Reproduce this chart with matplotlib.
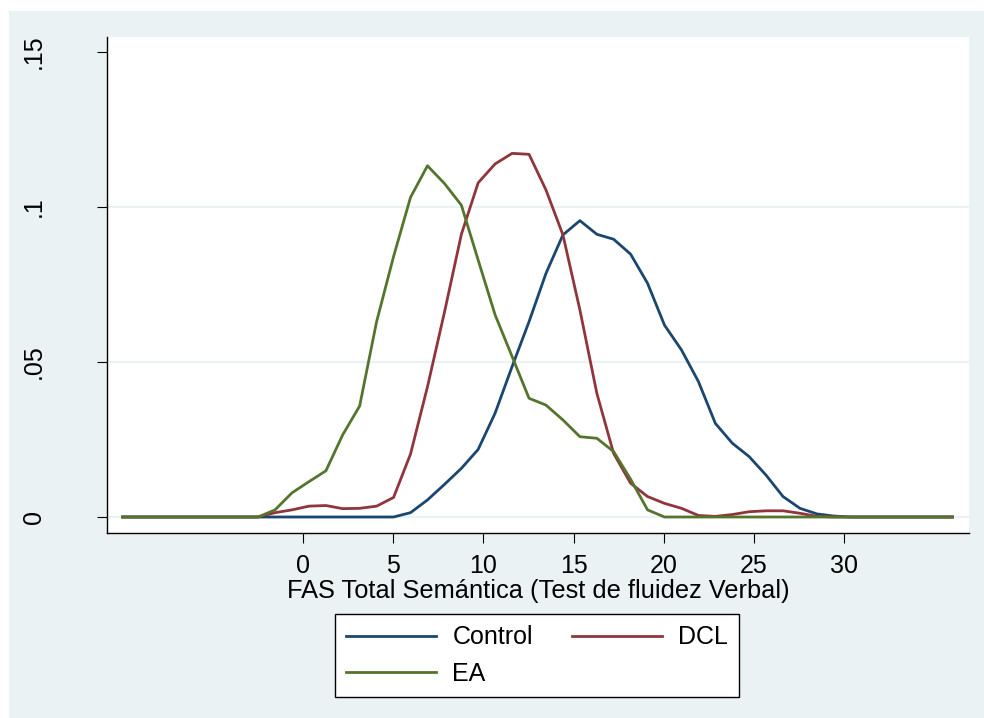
import matplotlib
matplotlib.use("Agg")
import matplotlib.pyplot as plt
from matplotlib.patches import Rectangle

plt.rcParams['font.family'] = ['Liberation Sans', 'DejaVu Sans']

# kernel density evaluation points (50 points, as in Stata kdensity)
x_grid = [-10.00, -9.06, -8.12, -7.18, -6.24, -5.31, -4.37, -3.43, -2.49, -1.55,
          -0.61, 0.33, 1.27, 2.20, 3.14, 4.08, 5.02, 5.96, 6.90, 7.84,
          8.78, 9.71, 10.65, 11.59, 12.53, 13.47, 14.41, 15.35, 16.29, 17.22,
          18.16, 19.10, 20.04, 20.98, 21.92, 22.86, 23.80, 24.73, 25.67, 26.61,
          27.55, 28.49, 29.43, 30.37, 31.31, 32.24, 33.18, 34.12, 35.06, 36.00]

control = [0, 0, 0, 0, 0, 0, 0, 0, 0, 0,
           0, 0, 0, 0, 0, 0, 0, 0.0014, 0.0055, 0.0105,
           0.0157, 0.0218, 0.0335, 0.0485, 0.0630, 0.0786, 0.0910, 0.0956, 0.0912, 0.0896,
           0.0848, 0.0754, 0.0619, 0.0539, 0.0437, 0.0302, 0.0238, 0.0195, 0.0135, 0.0066,
           0.0028, 0.0010, 0.0003, 0, 0, 0, 0, 0, 0, 0]

dcl = [0, 0, 0, 0, 0, 0, 0, 0, 0, 0.0014,
       0.0023, 0.0035, 0.0037, 0.0027, 0.0028, 0.0035, 0.0063, 0.0203, 0.0420, 0.0660,
       0.0912, 0.1078, 0.1139, 0.1173, 0.1170, 0.1055, 0.0910, 0.0668, 0.0399, 0.0205,
       0.0109, 0.0066, 0.0044, 0.0028, 0.0005, 0.0002, 0.0008, 0.0017, 0.0020, 0.0020,
       0.0012, 0.0002, 0, 0, 0, 0, 0, 0, 0, 0]

ea = [0, 0, 0, 0, 0, 0, 0, 0, 0, 0.0023,
      0.0078, 0.0114, 0.0149, 0.0265, 0.0358, 0.0630, 0.0840, 0.1031, 0.1133, 0.1076,
      0.1006, 0.0829, 0.0652, 0.0518, 0.0383, 0.0361, 0.0313, 0.0259, 0.0254, 0.0211,
      0.0122, 0.0023, 0, 0, 0, 0, 0, 0, 0, 0,
      0, 0, 0, 0, 0, 0, 0, 0, 0, 0]

x_ticks = [0, 5, 10, 15, 20, 25, 30]
y_ticks = [0, 0.05, 0.1, 0.15]
y_ticklabels = ["0", ".05", ".1", ".15"]

bg = "#EAF2F3"

fig = plt.figure(figsize=(9.84, 7.18), dpi=100, facecolor="white")
fig.patches.append(Rectangle((9 / 984, 0), 1, 1 - 11 / 718, transform=fig.transFigure,
                             facecolor=bg, edgecolor="none", zorder=-10))

ax = fig.add_axes([107 / 984, 185 / 718, 862 / 984, 496.5 / 718])
ax.set_facecolor("white")

for yv in [0, 0.05, 0.1]:
    ax.axhline(yv, color=bg, lw=1.6, zorder=1)

ax.plot(x_grid, control, color="#1A476F", lw=2.0, label="Control", zorder=3)
ax.plot(x_grid, dcl, color="#90353B", lw=2.0, label="DCL", zorder=3)
ax.plot(x_grid, ea, color="#55752F", lw=2.0, label="EA", zorder=3)

ax.set_xlim(-10.865, 36.92)
ax.set_ylim(-0.00516, 0.155)

ax.spines["top"].set_visible(False)
ax.spines["right"].set_visible(False)
ax.spines["left"].set_linewidth(1.0)
ax.spines["bottom"].set_linewidth(1.0)

ax.set_xticks(x_ticks)
ax.set_yticks(y_ticks)
ax.set_yticklabels(y_ticklabels, rotation=90, va="center")
ax.tick_params(axis="x", length=7, width=0.8, pad=8, labelsize=18)
ax.tick_params(axis="y", length=7, width=0.8, pad=37, labelsize=18)

ax.set_xlabel("FAS Total Semántica (Test de fluidez Verbal)", fontsize=18.3, labelpad=1)

h, l = ax.get_legend_handles_labels()
order = [0, 2, 1]
leg = fig.legend([h[i] for i in order], [l[i] for i in order], ncol=2,
                 loc="upper left", bbox_to_anchor=(335 / 984, 1 - 614 / 718),
                 fontsize=18, frameon=True, fancybox=False, edgecolor="black",
                 facecolor="white", framealpha=1, handlelength=3.6,
                 handletextpad=0.65, columnspacing=1.55, labelspacing=0.5,
                 borderpad=0.45, borderaxespad=0)
leg.get_frame().set_linewidth(1.0)

fig.savefig("out.png", dpi=100, facecolor=fig.get_facecolor())
